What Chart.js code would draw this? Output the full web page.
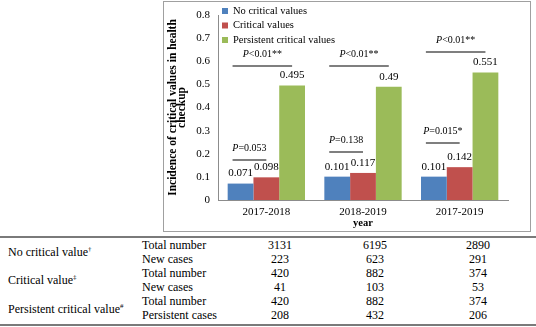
<!DOCTYPE html>
<html>
<head>
<meta charset="utf-8">
<script src="https://cdn.jsdelivr.net/npm/chart.js@4.4.0/dist/chart.umd.min.js"></script>
<style>
  html, body { margin: 0; padding: 0; background: #fff; }
  body {
    position: relative; width: 536px; height: 327px; overflow: hidden;
    font-family: "Liberation Serif", "Times New Roman", serif; color: #000;
  }
  #chartBox {
    position: absolute; left: 163px; top: 1px; width: 368px; height: 231px;
    border: 1px solid #a0a0a0; box-sizing: border-box;
  }
  #chart { position: absolute; left: 0; top: 0; }
  #stats {
    position: absolute; left: 0; top: 236px; width: 536px;
    border-collapse: collapse; table-layout: fixed; font-size: 12px;
    border-top: 2px solid #7a7a7a; border-bottom: 2px solid #7a7a7a;
  }
  #stats td { padding: 0; height: 14px; line-height: 14px; white-space: nowrap; }
  #stats tr:last-child td { padding-bottom: 2px; }
  #stats td.grp { padding-left: 8px; vertical-align: middle; }
  #stats td.num { text-align: center; }
  #stats sup { font-size: 7px; line-height: 0; }
</style>
</head>
<body>
<div id="chartBox"></div>
<canvas id="chart" width="536" height="232"></canvas>
<table id="stats">
  <colgroup>
    <col style="width:142px"><col style="width:88px"><col style="width:100px"><col style="width:90px"><col style="width:116px">
  </colgroup>
  <tbody id="statsBody"></tbody>
</table>
<script>
"use strict";

// --- chart data ---
const years = ['2017-2018', '2018-2019', '2017-2019'];
const seriesNames = ['No critical values', 'Critical values', 'Persistent critical values'];
const noCritical = [0.071, 0.101, 0.101];
const critical = [0.098, 0.117, 0.142];
const persistent = [0.495, 0.49, 0.551];
const seriesColors = ['#4F81BD', '#C0504D', '#9BBB59'];

// P-value brackets: low one spans blue..red, high one spans blue..green
const pLowText = ['=0.053', '=0.138', '=0.015*'];
const pLowLevel = [0.173, 0.208, 0.246];
const pHighText = ['<0.01**', '<0.01**', '<0.01**'];
const pHighLevel = [0.579, 0.579, 0.64];

// --- table under the chart ---
const groupNames = ['No critical value', 'Critical value', 'Persistent critical value'];
const groupMarks = ['\u2020', '\u2021', '#'];
const rowNames = [['Total number', 'New cases'], ['Total number', 'New cases'], ['Total number', 'Persistent cases']];
const totalNoCritical = [3131, 6195, 2890];
const newNoCritical = [223, 623, 291];
const totalCritical = [420, 882, 374];
const newCritical = [41, 103, 53];
const totalPersistent = [420, 882, 374];
const persistentCases = [208, 432, 206];

const FONT = '"Liberation Serif", "Times New Roman", serif';

// values printed above each bar
const barValueLabels = {
    id: 'barValueLabels',
    afterDatasetsDraw(chart) {
        const ctx = chart.ctx;
        ctx.save();
        ctx.font = '11px ' + FONT;
        ctx.fillStyle = '#000';
        ctx.textAlign = 'center';
        ctx.textBaseline = 'middle';
        chart.data.datasets.forEach((ds, i) => {
            chart.getDatasetMeta(i).data.forEach((bar, j) => {
                ctx.fillText(String(ds.data[j]), bar.x, bar.y - 10);
            });
        });
        ctx.restore();
    }
};

// "P<0.01**" style text with an italic P
function drawPText(ctx, rest, cx, y) {
    const italic = 'italic 10px ' + FONT;
    const upright = '10px ' + FONT;
    ctx.font = italic;
    const wp = ctx.measureText('P').width;
    ctx.font = upright;
    const wr = ctx.measureText(rest).width;
    const x = cx - (wp + wr) / 2;
    ctx.textAlign = 'left';
    ctx.font = italic;
    ctx.fillText('P', x, y);
    ctx.font = upright;
    ctx.fillText(rest, x + wp, y);
}

const pBrackets = {
    id: 'pBrackets',
    afterDatasetsDraw(chart) {
        const ctx = chart.ctx;
        const yScale = chart.scales.y;
        const blue = chart.getDatasetMeta(0).data;
        const red = chart.getDatasetMeta(1).data;
        const green = chart.getDatasetMeta(2).data;
        ctx.save();
        ctx.strokeStyle = '#555';
        ctx.lineWidth = 1.5;
        ctx.fillStyle = '#000';
        ctx.textBaseline = 'middle';
        const draw = (x1, x2, level, text) => {
            const y = yScale.getPixelForValue(level);
            ctx.beginPath();
            ctx.moveTo(x1, y);
            ctx.lineTo(x2, y);
            ctx.stroke();
            drawPText(ctx, text, (x1 + x2) / 2, y - 12);
        };
        years.forEach((_, i) => {
            draw(blue[i].x - 8, red[i].x, pLowLevel[i], pLowText[i]);
            draw(blue[i].x - 8, green[i].x, pHighLevel[i], pHighText[i]);
        });
        ctx.restore();
    }
};

// stacked legend in the top-left corner of the plot
const cornerLegend = {
    id: 'cornerLegend',
    afterDraw(chart) {
        const ctx = chart.ctx;
        const area = chart.chartArea;
        ctx.save();
        ctx.font = '10.5px ' + FONT;
        ctx.textAlign = 'left';
        ctx.textBaseline = 'middle';
        seriesNames.forEach((name, i) => {
            const y = area.top - 4 + i * 14.5;
            ctx.fillStyle = seriesColors[i];
            ctx.fillRect(area.left + 4, y - 3, 6, 6);
            ctx.fillStyle = '#000';
            ctx.fillText(name, area.left + 15, y);
        });
        ctx.restore();
    }
};

new Chart(document.getElementById('chart'), {
    type: 'bar',
    data: {
        labels: years,
        datasets: [noCritical, critical, persistent].map((values, i) => ({
            label: seriesNames[i],
            data: values,
            backgroundColor: seriesColors[i],
            categoryPercentage: 0.8,
            barPercentage: 1.0
        }))
    },
    options: {
        responsive: false,
        animation: false,
        layout: { padding: { left: 164, right: 28, top: 15, bottom: 2 } },
        plugins: {
            legend: { display: false },
            tooltip: { enabled: false }
        },
        scales: {
            x: {
                grid: { display: false, drawTicks: false },
                border: { color: '#8c8c8c' },
                ticks: { color: '#000', padding: 6, font: { family: FONT, size: 11 } },
                title: {
                    display: true, text: 'year', color: '#000',
                    font: { family: FONT, size: 10.5, weight: 'bold' },
                    padding: { top: 0, bottom: 0 }
                },
                afterFit: s => { s.height = 30; }
            },
            y: {
                min: 0,
                max: 0.8,
                grid: { display: false, drawTicks: false },
                border: { color: '#8c8c8c' },
                ticks: {
                    stepSize: 0.1, color: '#000', padding: 8,
                    font: { family: FONT, size: 11 },
                    callback: v => (v === 0 ? '0' : v.toFixed(1))
                },
                title: {
                    display: true,
                    text: ['Incidence of critical values in health', 'checkup'],
                    color: '#000',
                    font: { family: FONT, size: 11.5, weight: 'bold', lineHeight: 0.75 },
                    padding: { top: 5, bottom: 0 }
                },
                afterFit: s => { s.width = 54; }
            }
        }
    },
    plugins: [barValueLabels, pBrackets, cornerLegend]
});

// table rows
const tableRows = [
    [totalNoCritical, newNoCritical],
    [totalCritical, newCritical],
    [totalPersistent, persistentCases]
];
const body = document.getElementById('statsBody');
tableRows.forEach((pair, g) => {
    pair.forEach((values, r) => {
        const tr = document.createElement('tr');
        if (r === 0) {
            const td = document.createElement('td');
            td.className = 'grp';
            td.rowSpan = 2;
            td.innerHTML = groupNames[g] + '<sup>' + groupMarks[g] + '</sup>';
            tr.appendChild(td);
        }
        const name = document.createElement('td');
        name.textContent = rowNames[g][r];
        tr.appendChild(name);
        values.forEach(v => {
            const td = document.createElement('td');
            td.className = 'num';
            td.textContent = v;
            tr.appendChild(td);
        });
        body.appendChild(tr);
    });
});
</script>
</body>
</html>
